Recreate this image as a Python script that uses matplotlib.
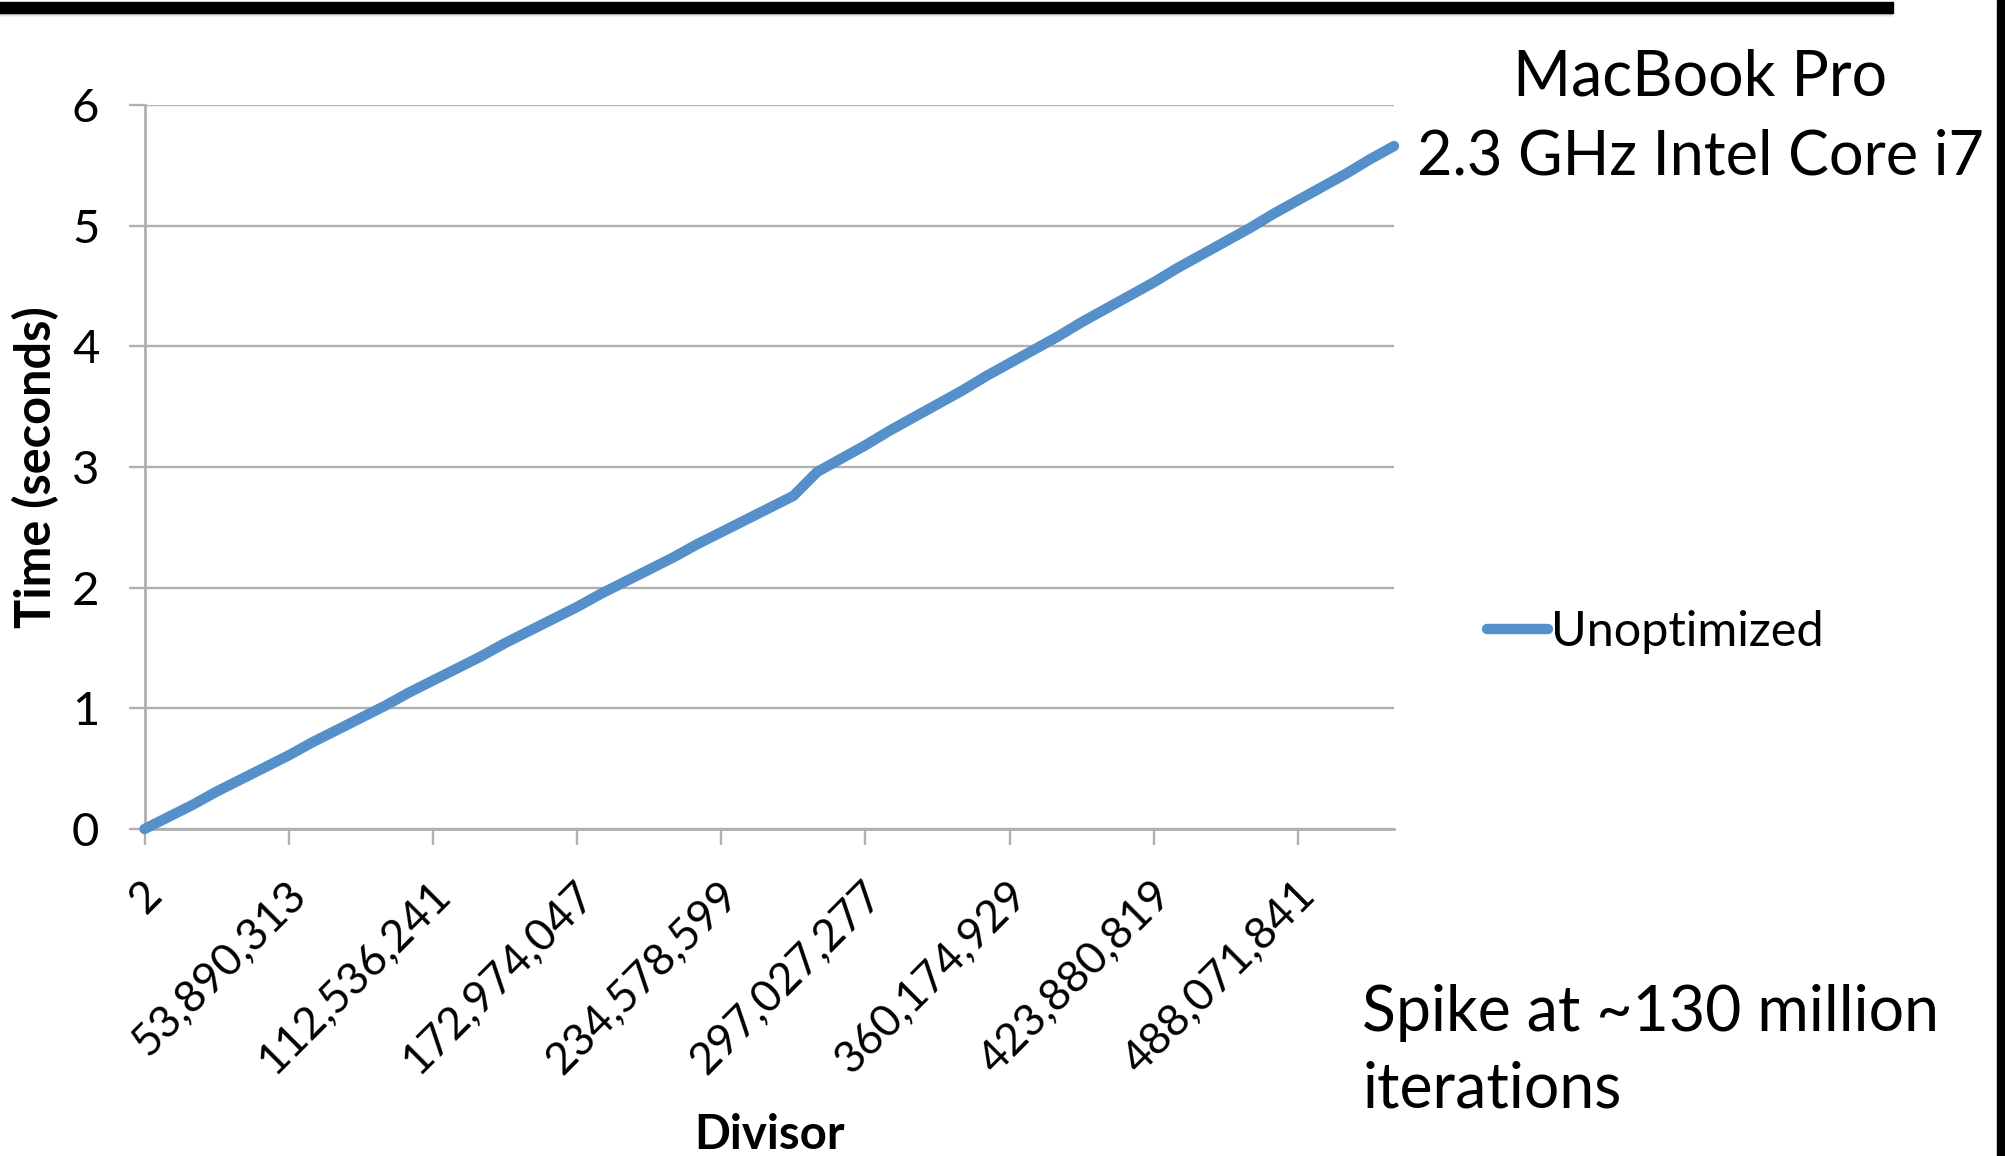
import numpy as np
import matplotlib
matplotlib.use("Agg")
import matplotlib.pyplot as plt
from matplotlib.patches import Rectangle
from matplotlib.transforms import ScaledTranslation

plt.rcParams['font.family'] = ['Lato', 'DejaVu Sans']

# Tiempo de ejecucion (s) por categoria del divisor, 6 puntos por etiqueta
tiempos = [0.00, 0.10, 0.20, 0.31, 0.41, 0.51, 0.61, 0.72, 0.82, 0.92,
           1.02, 1.13, 1.23, 1.33, 1.43, 1.54, 1.64, 1.74, 1.84, 1.95,
           2.05, 2.15, 2.25, 2.36, 2.46, 2.56, 2.66, 2.76, 2.96, 3.07,
           3.18, 3.30, 3.41, 3.52, 3.63, 3.75, 3.86, 3.97, 4.08, 4.20,
           4.31, 4.42, 4.53, 4.65, 4.76, 4.87, 4.98, 5.10, 5.21, 5.32,
           5.43, 5.55, 5.66]
etiquetas_divisor = ['2', '53,890,313', '112,536,241', '172,974,047',
                     '234,578,599', '297,027,277', '360,174,929',
                     '423,880,819', '488,071,841']
paso_etiqueta = 6
serie = 'Unoptimized'

W, H = 2005, 1156
fig = plt.figure(figsize=(W / 100, H / 100), dpi=100)
fig.patch.set_facecolor('white')

def fx(px):
    return px / W

def fy(py):
    return 1 - py / H

ax = fig.add_axes([fx(144.5), fy(829), fx(1394) - fx(144.5), fy(105) - fy(829)])

gris = '#b0b0b0'
azul = '#5590cb'

x = np.arange(len(tiempos))
ax.plot(x, tiempos, color=azul, lw=7.5, solid_capstyle='round',
        solid_joinstyle='round', zorder=3, clip_on=False, label=serie)

ax.set_xlim(0, len(tiempos) - 1)
ax.set_ylim(0, 6)
ax.set_yticks(range(7))
ax.yaxis.grid(True, color=gris, lw=1.7)
ax.set_axisbelow(True)

for lado in ['top', 'right']:
    ax.spines[lado].set_visible(False)
for lado in ['left', 'bottom']:
    ax.spines[lado].set_color(gris)
    ax.spines[lado].set_linewidth(2.0)

ax.tick_params(axis='y', direction='out', length=11.5, width=1.7, color=gris,
               labelsize=34, pad=21)
ax.tick_params(axis='x', direction='out', length=11.5, width=1.7, color=gris,
               labelsize=32, pad=31)

posiciones = [i * paso_etiqueta for i in range(len(etiquetas_divisor))]
ax.set_xticks(posiciones)
ax.set_xticklabels(etiquetas_divisor, rotation=45, ha='right', va='center',
                   rotation_mode='anchor')
desplazamiento = ScaledTranslation(0.11, 0, fig.dpi_scale_trans)
for etiqueta in ax.get_xticklabels():
    etiqueta.set_transform(etiqueta.get_transform() + desplazamiento)

fig.text(fx(36), fy(467), 'Time (seconds)', rotation=90, ha='center',
         va='center', fontsize=35, fontweight='bold')
fig.text(fx(769), fy(1135), 'Divisor', ha='center', va='center',
         fontsize=34, fontweight='bold')

ax.legend(loc='center left', bbox_to_anchor=(fx(1487), fy(632)),
          bbox_transform=fig.transFigure, frameon=False, fontsize=35,
          handlelength=1.25, handletextpad=0.07, borderpad=0,
          borderaxespad=0)

fig.text(fx(1700), fy(77), 'MacBook Pro', ha='center', va='center', fontsize=45)
fig.text(fx(1700), fy(157), '2.3 GHz Intel Core i7', ha='center', va='center',
         fontsize=44)
fig.text(fx(1362), fy(1013), 'Spike at ~130 million', ha='left', va='center',
         fontsize=45)
fig.text(fx(1362), fy(1090), 'iterations', ha='left', va='center', fontsize=45)

# Barras negras del marco de la diapositiva
fig.patches.append(Rectangle((0, fy(13)), fx(1893), fy(2) - fy(13),
                             transform=fig.transFigure, color='black', zorder=5))
for k, a in enumerate([0.35, 0.2, 0.1, 0.05]):
    fig.patches.append(Rectangle((0, fy(14 + k)), fx(1893), fy(13) - fy(14),
                                 transform=fig.transFigure, color='black',
                                 alpha=a, lw=0, zorder=5))
fig.patches.append(Rectangle((fx(1997), 0), 1 - fx(1997), 1,
                             transform=fig.transFigure, color='black', zorder=5))

fig.savefig('out.png', dpi=100, facecolor='white')
